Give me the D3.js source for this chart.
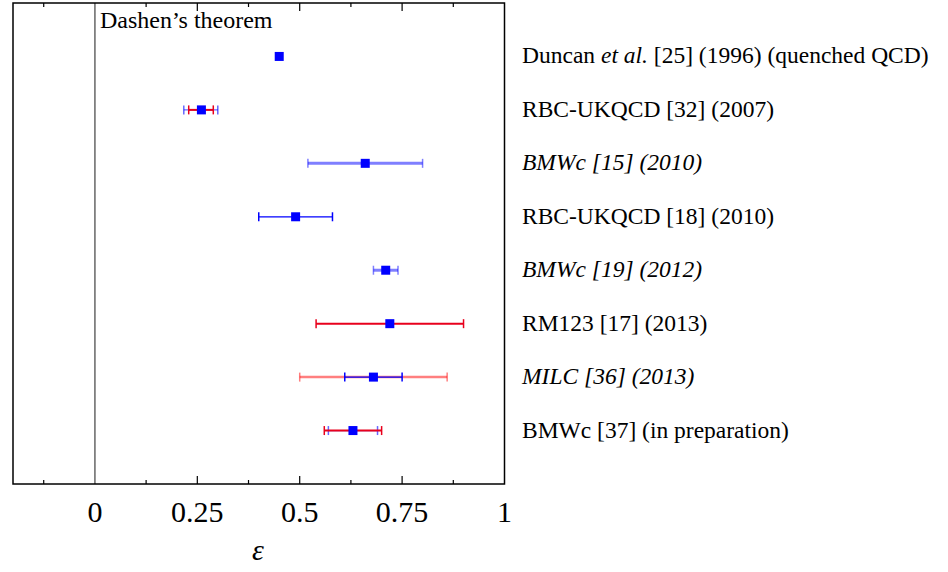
<!DOCTYPE html>
<html>
<head>
<meta charset="utf-8">
<script src="https://cdn.jsdelivr.net/npm/d3@7"></script>
<style>
  body { margin: 0; background: white; }
  text { font-family: "Liberation Serif", "DejaVu Serif", serif; }
</style>
</head>
<body>
<svg width="948" height="572"></svg>
<script>
// the results, one per row, top to bottom
var labels = [
  'Duncan <i>et al.</i> [25] (1996) (quenched QCD)',
  'RBC-UKQCD [32] (2007)',
  '<i>BMWc [15] (2010)</i>',
  'RBC-UKQCD [18] (2010)',
  '<i>BMWc [19] (2012)</i>',
  'RM123 [17] (2013)',
  '<i>MILC [36] (2013)</i>',
  'BMWc [37] (in preparation)'
];
var centers = [0.45, 0.26, 0.66, 0.49, 0.71, 0.72, 0.68, 0.63];
// total (blue) and statistical (red) errors, null when absent
var blueLo = [null, 0.217, 0.52, 0.40, 0.68, null, 0.61, 0.57];
var blueHi = [null, 0.30, 0.80, 0.58, 0.74, null, 0.75, 0.69];
var redLo  = [null, 0.229, null, null, null, 0.54, 0.50, 0.56];
var redHi  = [null, 0.289, null, null, null, 0.90, 0.86, 0.70];
var xTicks = [0, 0.25, 0.5, 0.75, 1];
var xTickLabels = ['0', '0.25', '0.5', '0.75', '1'];

var svg = d3.select('svg');
var fLeft = 13, fRight = 504.5, fTop = 3, fBottom = 484;

var x = d3.scaleLinear().domain([-0.2, 1]).range([fLeft, fRight]);
var y = d3.scalePoint().domain(d3.range(labels.length)).range([fTop, fBottom]).padding(1);

var rows = labels.map((l, i) => ({
  i: i, label: l, c: centers[i],
  bLo: blueLo[i], bHi: blueHi[i], rLo: redLo[i], rHi: redHi[i]
}));

// Dashen line at zero
svg.append('line')
  .attr('x1', x(0)).attr('x2', x(0))
  .attr('y1', fTop).attr('y2', fBottom)
  .attr('stroke', '#666').attr('stroke-width', 1.5);

svg.append('text')
  .attr('x', x(0) + 5).attr('y', 28)
  .style('font-size', '24px')
  .text('Dashen\u2019s theorem');

// ticks at bottom and top, major and minor
var minor = d3.range(-0.125, 1, 0.25).filter(v => v > -0.2);
function drawTicks(yy, dir) {
  svg.selectAll(null).data(xTicks.slice(1, -1)).enter().append('line')
    .attr('x1', d => x(d)).attr('x2', d => x(d))
    .attr('y1', yy).attr('y2', yy + dir * 8)
    .attr('stroke', 'black').attr('stroke-width', 1.2);
  svg.selectAll(null).data(minor).enter().append('line')
    .attr('x1', d => x(d)).attr('x2', d => x(d))
    .attr('y1', yy).attr('y2', yy + dir * 4)
    .attr('stroke', 'black').attr('stroke-width', 1.2);
}
drawTicks(fBottom, -1);
drawTicks(fTop, 1);

svg.selectAll('.xl').data(xTicks).enter().append('text')
  .attr('class', 'xl')
  .attr('x', d => x(d)).attr('y', 522)
  .attr('text-anchor', 'middle')
  .style('font-size', '30px')
  .text((d, i) => xTickLabels[i]);

svg.append('text')
  .attr('x', 258).attr('y', 560)
  .attr('text-anchor', 'middle')
  .style('font-size', '30px').style('font-style', 'italic')
  .text('\u03b5');

// frame
svg.append('rect')
  .attr('x', fLeft).attr('y', fTop)
  .attr('width', fRight - fLeft).attr('height', fBottom - fTop)
  .attr('fill', 'none').attr('stroke', 'black').attr('stroke-width', 1.5);

var faded = [2, 4];      // BMWc 2010, 2012 drawn lighter
var fadedRed = [6];      // MILC stat. error drawn lighter

function errBar(g, lo, hi, yy, color, width, op) {
  g.append('line').attr('x1', x(lo)).attr('x2', x(hi)).attr('y1', yy).attr('y2', yy)
    .attr('stroke', color).attr('stroke-width', width).attr('stroke-opacity', op);
  [lo, hi].forEach(v => g.append('line')
    .attr('x1', x(v)).attr('x2', x(v)).attr('y1', yy - 4.5).attr('y2', yy + 4.5)
    .attr('stroke', color).attr('stroke-width', 1.5).attr('stroke-opacity', op));
}

var gs = svg.selectAll('.row').data(rows).enter().append('g').attr('class', 'row');

gs.each(function (d) {
  var g = d3.select(this), yy = y(d.i);
  var fb = faded.indexOf(d.i) >= 0;
  var fr = fadedRed.indexOf(d.i) >= 0;
  if (fr && d.rLo != null) errBar(g, d.rLo, d.rHi, yy, '#ff0000', 2.5, 0.5);
  if (d.bLo != null) errBar(g, d.bLo, d.bHi, yy, '#0000ff', fb ? 3 : 1.3, fb ? 0.5 : (d.rLo != null && !fr ? 0.6 : 1));
  if (!fr && d.rLo != null) errBar(g, d.rLo, d.rHi, yy, '#e8001c', 2, 1);
  g.append('rect')
    .attr('x', x(d.c) - 4.5).attr('y', yy - 4.5)
    .attr('width', 9).attr('height', 9)
    .attr('fill', '#0000ff');
});

// labels, with <i> parts in italic
gs.append('text')
  .attr('x', 522).attr('y', d => y(d.i) + 7)
  .style('font-size', '23.5px')
  .each(function (d) {
    var t = d3.select(this);
    d.label.split(/(<i>.*?<\/i>)/).filter(s => s.length).forEach(s => {
      var it = s.startsWith('<i>');
      t.append('tspan').style('font-style', it ? 'italic' : 'normal')
        .text(it ? s.slice(3, -4) : s);
    });
  });
</script>
</body>
</html>
